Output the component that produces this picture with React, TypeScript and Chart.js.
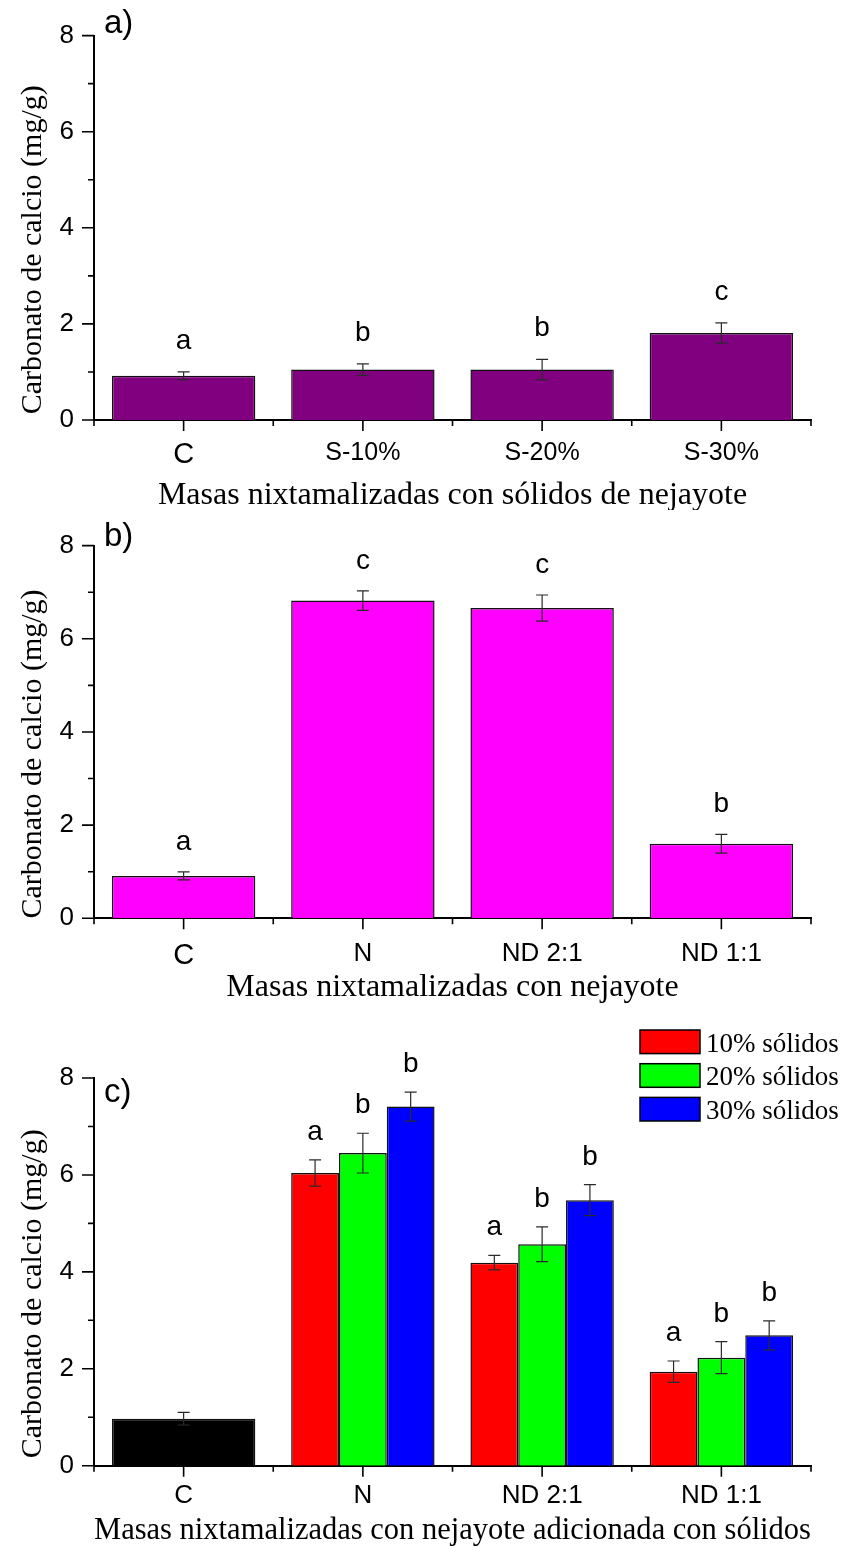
import React, { useEffect, useRef } from 'react';
import { Chart, registerables } from 'chart.js';

Chart.register(...registerables);

const SANS = '"Liberation Sans", Arial, Helvetica, sans-serif';
const SERIF = '"Liberation Serif", "Times New Roman", Times, serif';

// ---- a) masas con sólidos de nejayote ----
const categoriesA = ['C', 'S-10%', 'S-20%', 'S-30%'];
const valuesA = [0.92, 1.05, 1.05, 1.81];
const errorsA = [0.08, 0.12, 0.21, 0.21];
const lettersA = ['a', 'b', 'b', 'c'];

// ---- b) masas con nejayote ----
const categoriesB = ['C', 'N', 'ND 2:1', 'ND 1:1'];
const valuesB = [0.91, 6.82, 6.66, 1.6];
const errorsB = [0.085, 0.21, 0.28, 0.2];
const lettersB = ['a', 'c', 'c', 'b'];

// ---- c) masas con nejayote adicionada con sólidos ----
const categoriesC = ['C', 'N', 'ND 2:1', 'ND 1:1'];
const controlC = [0.97, null, null, null];
const controlErrC = [0.13, null, null, null];
const solids10 = [null, 6.04, 4.19, 1.94];
const solids10Err = [null, 0.27, 0.15, 0.22];
const solids10Letters = ['', 'a', 'a', 'a'];
const solids20 = [null, 6.45, 4.57, 2.23];
const solids20Err = [null, 0.41, 0.36, 0.33];
const solids20Letters = ['', 'b', 'b', 'b'];
const solids30 = [null, 7.41, 5.48, 2.69];
const solids30Err = [null, 0.3, 0.32, 0.3];
const solids30Letters = ['', 'b', 'b', 'b'];
const seriesNamesC = ['10% sólidos', '20% sólidos', '30% sólidos'];

const yMin = 0;
const yMax = 8;
const yStep = 2;

const yTitle = 'Carbonato de calcio (mg/g)';

// Error bars, significance letters, axis tick marks, titles and legend.
const panelDecor = {
  id: 'panelDecor',
  afterDatasetsDraw(chart: any, _args: any, opts: any) {
    const ctx = chart.ctx;
    const ys = chart.scales.y;
    ctx.save();
    chart.data.datasets.forEach((ds: any, di: number) => {
      const meta = chart.getDatasetMeta(di);
      meta.data.forEach((el: any, i: number) => {
        const v = ds.data[i];
        const e = ds.errors ? ds.errors[i] : null;
        if (v == null || e == null) return;
        const top = ys.getPixelForValue(v + e);
        const bot = ys.getPixelForValue(v - e);
        ctx.strokeStyle = '#2a2a2a';
        ctx.lineWidth = 1.2;
        ctx.beginPath();
        ctx.moveTo(el.x, top);
        ctx.lineTo(el.x, bot);
        ctx.moveTo(el.x - 6, top);
        ctx.lineTo(el.x + 6, top);
        ctx.moveTo(el.x - 6, bot);
        ctx.lineTo(el.x + 6, bot);
        ctx.stroke();
        const letter = ds.letters ? ds.letters[i] : '';
        if (letter) {
          ctx.fillStyle = '#000';
          ctx.font = `${opts.letterSize}px ${SANS}`;
          ctx.textAlign = 'center';
          ctx.textBaseline = 'alphabetic';
          ctx.fillText(letter, el.x, top - opts.letterGap);
        }
      });
    });
    ctx.restore();
  },
  afterDraw(chart: any, _args: any, opts: any) {
    const ctx = chart.ctx;
    const area = chart.chartArea;
    const ys = chart.scales.y;
    const xs = chart.scales.x;
    ctx.save();
    ctx.strokeStyle = '#000';
    ctx.lineWidth = 1.6;
    ctx.beginPath();
    // y ticks: major every 2, minor every 1
    for (let v = yMin; v <= yMax; v += 1) {
      const py = ys.getPixelForValue(v);
      const len = v % yStep === 0 ? 12 : 6;
      ctx.moveTo(area.left - len, py);
      ctx.lineTo(area.left, py);
    }
    // x ticks: major at category centres, minor at boundaries
    const n = chart.data.labels.length;
    const w = (area.right - area.left) / n;
    for (let i = 0; i <= n; i++) {
      const px = area.left + i * w;
      ctx.moveTo(px, area.bottom);
      ctx.lineTo(px, area.bottom + 6);
    }
    for (let i = 0; i < n; i++) {
      const px = xs.getPixelForValue(i);
      ctx.moveTo(px, area.bottom);
      ctx.lineTo(px, area.bottom + 11);
    }
    ctx.stroke();

    // y title
    ctx.fillStyle = '#000';
    ctx.font = `30px ${SERIF}`;
    ctx.textAlign = 'center';
    ctx.textBaseline = 'alphabetic';
    ctx.translate(41, (area.top + area.bottom) / 2 + 22);
    ctx.rotate(-Math.PI / 2);
    ctx.fillText(yTitle, 0, 0);
    ctx.restore();

    // panel tag
    ctx.save();
    ctx.fillStyle = '#000';
    ctx.font = `33px ${SANS}`;
    ctx.textAlign = 'left';
    ctx.textBaseline = 'alphabetic';
    ctx.fillText(opts.tag, 104, opts.tagBaseline);
    ctx.restore();

    // legend
    if (opts.legend) {
      ctx.save();
      const items = chart.data.datasets.filter((d: any) => d.label);
      items.forEach((d: any, k: number) => {
        const top = 15 + k * 33.7;
        ctx.fillStyle = d.backgroundColor;
        ctx.fillRect(640, top, 60, 23.6);
        ctx.strokeStyle = '#000';
        ctx.lineWidth = 1.5;
        ctx.strokeRect(640, top, 60, 23.6);
        ctx.fillStyle = '#000';
        ctx.font = `27px ${SERIF}`;
        ctx.textAlign = 'left';
        ctx.textBaseline = 'alphabetic';
        ctx.fillText(d.label, 706, top + 21.5);
      });
      ctx.restore();
    }
  },
};

type PanelSpec = {
  top: number;
  height: number;
  padTop: number;
  xScaleHeight: number;
  xTitlePad: number;
  xLabelPad: number;
  labelSize: number;
  firstLabelSize: number;
  tag: string;
  tagBaseline: number;
  letterGap: number;
  letterSize: number;
  legend: boolean;
  xTitle: string;
  labels: string[];
  datasets: any[];
};

function Panel({ spec }: { spec: PanelSpec }) {
  const ref = useRef<HTMLCanvasElement>(null);
  useEffect(() => {
    if (!ref.current) return;
    const chart = new Chart(ref.current, {
      type: 'bar',
      data: { labels: spec.labels, datasets: spec.datasets },
      plugins: [panelDecor as any],
      options: {
        responsive: false,
        animation: false,
        devicePixelRatio: 1,
        layout: { padding: { top: spec.padTop, right: 33, left: 0, bottom: 0 } },
        plugins: {
          legend: { display: false },
          tooltip: { enabled: false },
          panelDecor: {
            tag: spec.tag,
            tagBaseline: spec.tagBaseline,
            letterGap: spec.letterGap,
            letterSize: spec.letterSize,
            legend: spec.legend,
          },
        } as any,
        scales: {
          x: {
            z: 1,
            grid: { display: false, drawTicks: false },
            border: { display: true, color: '#000', width: 2 },
            ticks: {
              color: '#000',
              padding: spec.xLabelPad,
              maxRotation: 0,
              autoSkip: false,
              font: (c: any) => ({
                family: SANS,
                size: c.index === 0 ? spec.firstLabelSize : spec.labelSize,
              }),
            },
            title: {
              display: true,
              text: spec.xTitle,
              color: '#000',
              font: { family: SERIF, size: 32 },
              padding: { top: 0, bottom: spec.xTitlePad },
            },
            afterFit: (s: any) => {
              s.height = spec.xScaleHeight;
            },
          },
          y: {
            z: 1,
            min: yMin,
            max: yMax,
            grid: { display: false, drawTicks: false },
            border: { display: true, color: '#000', width: 2 },
            ticks: {
              stepSize: yStep,
              color: '#000',
              padding: 20,
              font: { family: SANS, size: 26 },
            },
            afterFit: (s: any) => {
              s.width = 94;
            },
          },
        },
      },
    });
    return () => chart.destroy();
  }, [spec]);
  return (
    <div style={{ position: 'absolute', left: 0, top: spec.top, width: 844, height: spec.height }}>
      <canvas
        ref={ref}
        width={844}
        height={spec.height}
        style={{ display: 'block', width: 844, height: spec.height }}
      />
    </div>
  );
}

const barStyle = { borderColor: '#111', borderWidth: 1.5, borderSkipped: 'start' };

const specA: PanelSpec = {
  top: 0,
  height: 510,
  padTop: 33,
  xScaleHeight: 90,
  xTitlePad: -4.5,
  xLabelPad: 18,
  labelSize: 25,
  firstLabelSize: 29,
  tag: 'a)',
  tagBaseline: 33,
  letterGap: 23,
  letterSize: 28,
  legend: false,
  xTitle: 'Masas nixtamalizadas con sólidos de nejayote',
  labels: categoriesA,
  datasets: [
    {
      label: '',
      data: valuesA,
      errors: errorsA,
      letters: lettersA,
      backgroundColor: '#800080',
      barPercentage: 0.8,
      categoryPercentage: 1,
      ...barStyle,
    },
  ],
};

const specB: PanelSpec = {
  top: 510,
  height: 505,
  padTop: 21,
  xScaleHeight: 96.7,
  xTitlePad: 7.8,
  xLabelPad: 20,
  labelSize: 26,
  firstLabelSize: 29,
  tag: 'b)',
  tagBaseline: 36,
  letterGap: 22,
  letterSize: 28,
  legend: false,
  xTitle: 'Masas nixtamalizadas con nejayote',
  labels: categoriesB,
  datasets: [
    {
      label: '',
      data: valuesB,
      errors: errorsB,
      letters: lettersB,
      backgroundColor: '#FF00FF',
      barPercentage: 0.8,
      categoryPercentage: 1,
      ...barStyle,
    },
  ],
};

const specC: PanelSpec = {
  top: 1015,
  height: 533,
  padTop: 63,
  xScaleHeight: 82.3,
  xTitlePad: -2.2,
  xLabelPad: 15,
  labelSize: 26,
  firstLabelSize: 26,
  tag: 'c)',
  tagBaseline: 87,
  letterGap: 20,
  letterSize: 28,
  legend: true,
  xTitle: 'Masas nixtamalizadas con nejayote adicionada con sólidos',
  labels: categoriesC,
  datasets: [
    {
      label: '',
      data: controlC,
      errors: controlErrC,
      backgroundColor: '#000000',
      grouped: false,
      barPercentage: 1,
      categoryPercentage: 0.8,
      ...barStyle,
    },
    {
      label: seriesNamesC[0],
      data: solids10,
      errors: solids10Err,
      letters: solids10Letters,
      backgroundColor: '#FF0000',
      barPercentage: 1,
      categoryPercentage: 0.8,
      ...barStyle,
    },
    {
      label: seriesNamesC[1],
      data: solids20,
      errors: solids20Err,
      letters: solids20Letters,
      backgroundColor: '#00FF00',
      barPercentage: 1,
      categoryPercentage: 0.8,
      ...barStyle,
    },
    {
      label: seriesNamesC[2],
      data: solids30,
      errors: solids30Err,
      letters: solids30Letters,
      backgroundColor: '#0000FF',
      barPercentage: 1,
      categoryPercentage: 0.8,
      ...barStyle,
    },
  ],
};

export default function App() {
  return (
    <div style={{ position: 'absolute', left: 0, top: 0, width: 844, height: 1548, background: '#fff' }}>
      <Panel spec={specA} />
      <Panel spec={specB} />
      <Panel spec={specC} />
    </div>
  );
}
